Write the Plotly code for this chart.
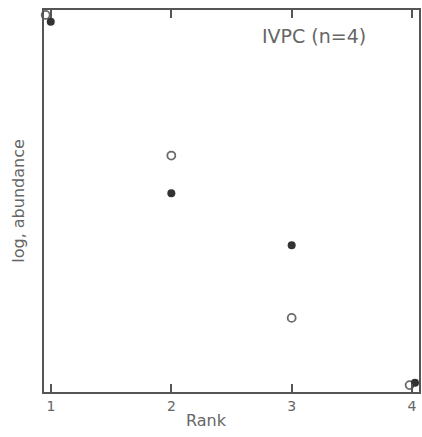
import plotly.graph_objects as go

# Data (y in arbitrary log-abundance units, 0..1 scale)
open_rank = [0.956, 2.0, 3.0, 3.98]
open_logab = [0.987, 0.619, 0.194, 0.018]
filled_rank = [0.998, 2.0, 3.0, 4.025]
filled_logab = [0.969, 0.520, 0.384, 0.024]
tick_vals = [1, 2, 3, 4]
tick_text = ["1", "2", "3", "4"]

ink = "#555555"
font_family = "DejaVu Sans"

fig = go.Figure()
fig.add_trace(go.Scatter(
    x=open_rank, y=open_logab, mode="markers",
    marker=dict(symbol="circle-open", size=8, color="#6a6a6a", line=dict(width=1.8, color="#6a6a6a")),
    cliponaxis=False, showlegend=False, hoverinfo="skip"))
fig.add_trace(go.Scatter(
    x=filled_rank, y=filled_logab, mode="markers",
    marker=dict(symbol="circle", size=8, color="#333333"),
    cliponaxis=False, showlegend=False, hoverinfo="skip"))

fig.add_annotation(text="IVPC (n=4)", x=0.719, y=0.932, xref="paper", yref="paper",
                   xanchor="center", yanchor="middle",
                   showarrow=False, font=dict(family=font_family, size=19, color="#666666"))
fig.add_annotation(text="Rank", x=0.432, y=-0.075, xref="paper", yref="paper",
                   xanchor="center", yanchor="middle",
                   showarrow=False, font=dict(family=font_family, size=16, color="#666666"))

fig.update_layout(
    width=422, height=437,
    margin=dict(l=44, r=1, t=10, b=45),
    paper_bgcolor="white", plot_bgcolor="white",
    font=dict(family=font_family, color="#666666"),
    xaxis=dict(range=[0.942, 4.058], tickvals=tick_vals, ticktext=tick_text,
               ticks="inside", ticklen=8, tickwidth=1.5, tickcolor=ink,
               showline=True, linecolor=ink, linewidth=1.5, mirror="ticks",
               showgrid=False, zeroline=False,
               tickfont=dict(size=14, color="#666666")),
    yaxis=dict(range=[0, 1], showticklabels=False, ticks="",
               showline=True, linecolor=ink, linewidth=1.5, mirror=True,
               showgrid=False, zeroline=False,
               title=dict(text="log, abundance", font=dict(size=16, color="#666666"), standoff=14)),
)

fig.write_html("out.html")
